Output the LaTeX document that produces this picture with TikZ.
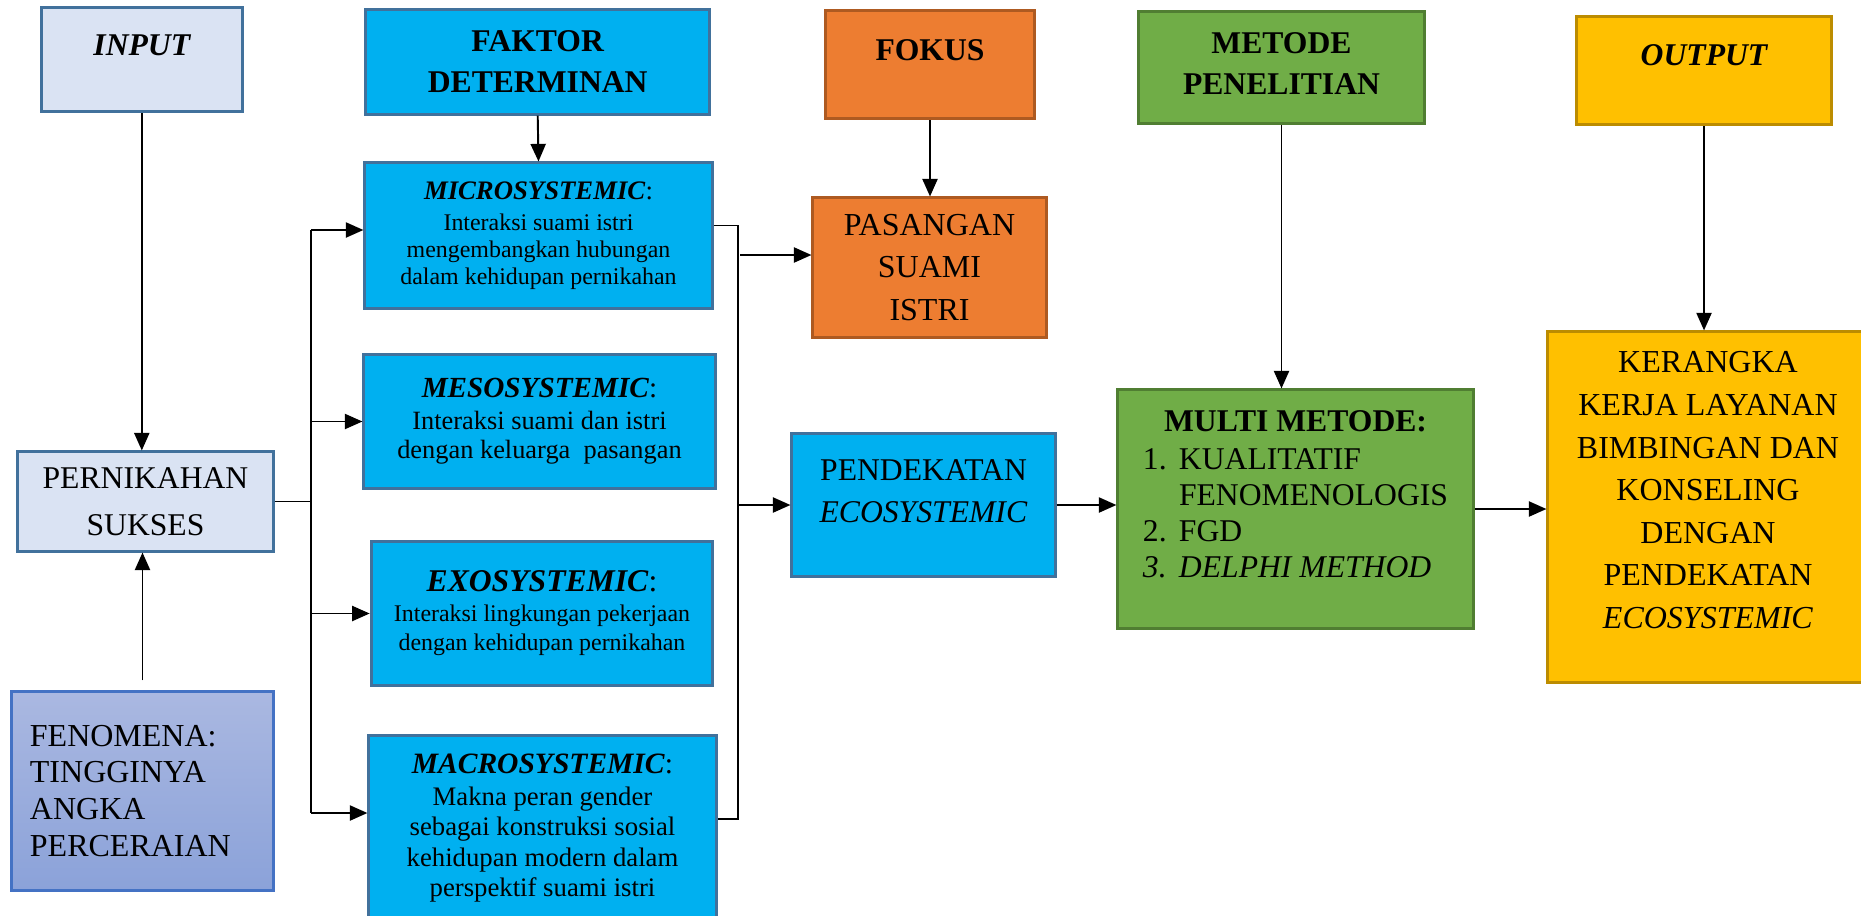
\documentclass[tikz,border=0pt]{standalone}
\usepackage{fontspec}
\setmainfont{Liberation Serif}
\usepackage{xcolor}
\usepackage{tikz}
\usetikzlibrary{arrows.meta, positioning}
\definecolor{lightfill}{HTML}{DAE3F3}
\definecolor{blueline}{HTML}{41719C}
\definecolor{skyfill}{HTML}{00B0F0}
\definecolor{orangefill}{HTML}{ED7D31}
\definecolor{orangeline}{HTML}{AE5A21}
\definecolor{greenfill}{HTML}{70AD47}
\definecolor{greenline}{HTML}{507E32}
\definecolor{goldfill}{HTML}{FFC000}
\definecolor{goldline}{HTML}{BC8C00}
\definecolor{fentop}{HTML}{AAB8E1}
\definecolor{fenbottom}{HTML}{8BA2D9}
\definecolor{fenline}{HTML}{4472C4}

\begin{document}
\begin{tikzpicture}[x=0.01cm, y=-0.01cm,
    box/.style={draw, line width=0.85pt, inner sep=0pt, align=center,
                font=\fontsize{9}{11.8}\selectfont},
    lightbox/.style={box, fill=lightfill, draw=blueline},
    skybox/.style={box, fill=skyfill, draw=blueline},
    orangebox/.style={box, fill=orangefill, draw=orangeline},
    greenbox/.style={box, fill=greenfill, draw=greenline},
    goldbox/.style={box, fill=goldfill, draw=goldline},
    fenbox/.style={box, top color=fentop, bottom color=fenbottom, draw=fenline},
    arr/.style={-{Triangle[length=5pt, width=4.3pt]}, line width=0.55pt},
    wire/.style={line width=0.55pt}
]
    \useasboundingbox (0,0) rectangle (1861,915);
    \clip (0,0) rectangle (1861,915);

    % Headers
    \node[lightbox, minimum width=2.005cm, minimum height=1.036cm, text depth=0.3cm,
          font=\fontsize{9}{11.8}\selectfont\bfseries\itshape] (input) at (141.8,59.8) {INPUT};
    \node[skybox, minimum width=3.44cm, minimum height=1.045cm,
          font=\fontsize{9}{11.8}\selectfont\bfseries] (faktor) at (537.7,61.8) {FAKTOR\\DETERMINAN};
    \node[orangebox, minimum width=2.08cm, minimum height=1.08cm, text depth=0.3cm,
          font=\fontsize{9}{11.8}\selectfont\bfseries] (fokus) at (930,64.7) {FOKUS};
    \node[greenbox, minimum width=2.85cm, minimum height=1.114cm, text depth=0.08cm,
          font=\fontsize{9}{11.8}\selectfont\bfseries] (metode) at (1281.5,67.7) {METODE\\PENELITIAN};
    \node[goldbox, minimum width=2.54cm, minimum height=1.08cm, text depth=0.32cm,
          font=\fontsize{9}{11.8}\selectfont\bfseries\itshape] (output) at (1704,70.6) {OUTPUT};

    % Input column
    \node[lightbox, minimum width=2.55cm, minimum height=0.99cm,
          font=\fontsize{9}{13.3}\selectfont] (pern) at (145.5,501.5) {PERNIKAHAN\\SUKSES};
    \node[fenbox, minimum width=2.61cm, minimum height=1.98cm, text width=2.25cm, align=left,
          font=\fontsize{9.1}{10.5}\selectfont] (fen) at (142.5,791)
        {FENOMENA:\\TINGGINYA\\ANGKA\\PERCERAIAN};

    % Determinant factors
    \node[skybox, minimum width=3.47cm, minimum height=1.45cm,
          font=\fontsize{6.8}{7.6}\selectfont] (micro) at (538.5,235.5)
        {{\fontsize{7.6}{8}\selectfont\textbf{\textit{MICROSYSTEMIC}}:}\\[1.2pt]
         Interaksi suami istri\\mengembangkan hubungan\\dalam kehidupan pernikahan};
    \node[skybox, minimum width=3.51cm, minimum height=1.33cm,
          font=\fontsize{7.5}{8.25}\selectfont] (meso) at (539.5,421.5)
        {{\fontsize{8.3}{9}\selectfont\textbf{\textit{MESOSYSTEMIC}}:}\\[0.85pt]
         Interaksi suami dan istri\\dengan keluarga~ pasangan};
    \node[skybox, minimum width=3.415cm, minimum height=1.43cm,
          font=\fontsize{6.8}{8.4}\selectfont] (exo) at (542,613.5)
        {{\fontsize{9}{9.5}\selectfont\textbf{\textit{EXOSYSTEMIC}}:}\\
         Interaksi lingkungan pekerjaan\\dengan kehidupan pernikahan};
    \node[skybox, minimum width=3.47cm, minimum height=1.84cm,
          font=\fontsize{7.6}{8.6}\selectfont] (macro) at (542.5,828)
        {{\fontsize{8.4}{9}\selectfont\textbf{\textit{MACROSYSTEMIC}}:}\\[0.5pt]
         Makna peran gender\\sebagai konstruksi sosial\\kehidupan modern dalam\\perspektif suami istri};

    % Focus, approach, method, output
    \node[orangebox, minimum width=2.33cm, minimum height=1.39cm,
          font=\fontsize{9.1}{12}\selectfont] (pasangan) at (929.5,267.5) {PASANGAN\\SUAMI\\ISTRI};
    \node[skybox, minimum width=2.63cm, minimum height=1.42cm, text depth=0.28cm] (pendekatan)
        at (923.5,505) {PENDEKATAN\\\textit{ECOSYSTEMIC}};
    \node[greenbox, minimum width=3.55cm, minimum height=2.38cm, text depth=0.34cm,
          font=\fontsize{9}{10.2}\selectfont] (multi) at (1295.5,509)
        {\begin{tabular}[b]{@{}l@{\hspace{3.5pt}}l@{}}
         \multicolumn{2}{c}{\textbf{MULTI METODE:}}\\[0.6pt]
         1. & KUALITATIF\\
            & FENOMENOLOGIS\\
         2. & FGD\\
         \textit{3.} & \textit{DELPHI METHOD}
         \end{tabular}};
    \node[goldbox, minimum width=3.2cm, minimum height=3.5cm, text depth=0.34cm,
          font=\fontsize{9.1}{12.1}\selectfont] (kerangka) at (1708,507)
        {KERANGKA\\KERJA LAYANAN\\BIMBINGAN DAN\\KONSELING\\DENGAN\\PENDEKATAN\\\textit{ECOSYSTEMIC}};

    % Bus and bracket points
    \coordinate (busTop) at (311,230);
    \coordinate (busBot) at (311,813);
    \coordinate (brTop) at (738,225.5);
    \coordinate (brBot) at (738,819);
    \coordinate (toPas) at (740,255);

    % Connectors
    \draw[arr] (input.south) -- (input.south |- pern.north);
    \draw[arr] ([yshift=0.1cm]fen.north) -- (fen.north |- pern.south);
    \draw[wire] (pern.east) -- (pern.east -| busTop);
    \draw[wire] (busTop) -- (busBot);
    \draw[arr] (busTop) -- (busTop -| micro.west);
    \draw[arr] (busTop |- meso.west) -- (meso.west);
    \draw[arr] (busTop |- exo.west) -- (exo.west);
    \draw[arr] (busBot) -- (busBot -| macro.west);
    \draw[arr] (faktor.south) -- (micro.north);
    \draw[wire] (micro.east |- brTop) -- (brTop) -- (brBot) -- (macro.east |- brBot);
    \draw[arr] (toPas) -- (toPas -| pasangan.west);
    \draw[arr] (brTop |- pendekatan.west) -- (pendekatan.west);
    \draw[arr] (fokus.south) -- (fokus.south |- pasangan.north);
    \draw[arr] (metode.south) -- (metode.south |- multi.north);
    \draw[arr] (output.south) -- (output.south |- kerangka.north);
    \draw[arr] (pendekatan.east) -- (pendekatan.east -| multi.west);
    \draw[arr] (multi.east) -- (multi.east -| kerangka.west);
\end{tikzpicture}
\end{document}
